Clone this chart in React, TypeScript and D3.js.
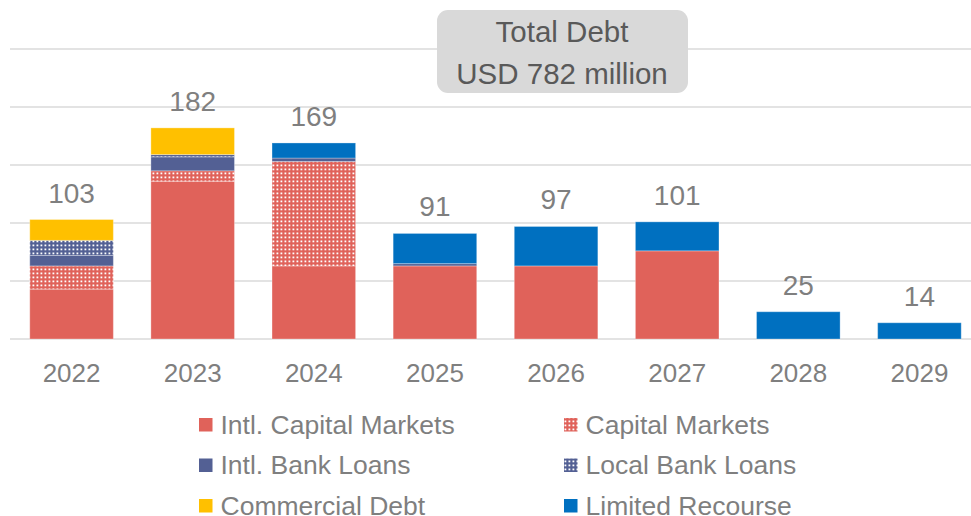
import * as d3 from "d3";

// values in USD million
const years = ["2022", "2023", "2024", "2025", "2026", "2027", "2028", "2029"];
const intlCapitalMarkets = [43, 136, 63, 63, 63, 76, 0, 0];
const capitalMarkets = [20, 9, 90, 0, 0, 0, 0, 0];
const intlBankLoans = [9, 12, 3, 2, 0, 0, 0, 0];
const localBankLoans = [13, 2, 0, 0, 0, 0, 0, 0];
const commercialDebt = [18, 23, 0, 0, 0, 0, 0, 0];
const limitedRecourse = [0, 0, 13, 26, 34, 25, 23.5, 14];
const totals = [103, 182, 169, 91, 97, 101, 25, 14];
const yTicks = [0, 50, 100, 150, 200, 250];

const seriesDefs = [
  { key: "icm", name: "Intl. Capital Markets", values: intlCapitalMarkets, fill: "#e0625a" },
  { key: "cm", name: "Capital Markets", values: capitalMarkets, fill: "url(#patCM)" },
  { key: "ibl", name: "Intl. Bank Loans", values: intlBankLoans, fill: "#536094" },
  { key: "lbl", name: "Local Bank Loans", values: localBankLoans, fill: "url(#patLBL)" },
  { key: "cd", name: "Commercial Debt", values: commercialDebt, fill: "#ffc000" },
  { key: "lr", name: "Limited Recourse", values: limitedRecourse, fill: "#0070c0" },
];

const W = 971;
const H = 516;
const font = "'Liberation Sans', Arial, sans-serif";

export default function App() {
  const x = d3.scaleBand<string>().domain(years).range([11, 980]).paddingInner(0.31).paddingOuter(0.155);
  const y = d3.scaleLinear().domain([0, 250]).range([339, 49]);

  const rows = years.map((yr, i) => {
    const r: Record<string, number | string> = { year: yr };
    seriesDefs.forEach((s) => (r[s.key] = s.values[i]));
    return r;
  });
  const stacked = d3.stack<any>().keys(seriesDefs.map((s) => s.key))(rows);

  const legendCols = [199, 564];
  const legendRows = [418, 458.5, 499];

  return (
    <svg width={W} height={H} style={{ position: "absolute", left: 0, top: 0 }} fontFamily={font}>
      <defs>
        <pattern id="patCM" width="4" height="4" patternUnits="userSpaceOnUse">
          <rect width="4" height="4" fill="#e0625a" />
          <rect x="0.5" y="0.5" width="1.8" height="1.8" fill="#fff" />
        </pattern>
        <pattern id="patLBL" width="4" height="4" patternUnits="userSpaceOnUse">
          <rect width="4" height="4" fill="#536094" />
          <rect x="0.5" y="0.5" width="1.8" height="1.8" fill="#fff" />
        </pattern>
      </defs>

      {yTicks.map((t) => (
        <line key={t} x1={10} x2={971} y1={y(t)} y2={y(t)} stroke="#e3e3e3" strokeWidth={2} />
      ))}

      {stacked.map((layer, si) => (
        <g key={layer.key}>
          {layer.map((d, i) =>
            d[1] - d[0] > 0 ? (
              <rect
                key={i}
                x={x(years[i])}
                width={x.bandwidth()}
                y={y(d[1])}
                height={y(d[0]) - y(d[1])}
                fill={seriesDefs[si].fill}
                stroke="#ffffff"
                strokeOpacity={0.3}
                strokeWidth={1}
              />
            ) : null
          )}
        </g>
      ))}

      {years.map((yr, i) => {
        const top = y(d3.sum(seriesDefs, (s) => s.values[i]));
        return (
          <text
            key={yr}
            x={x(yr)! + x.bandwidth() / 2}
            y={top - 17}
            textAnchor="middle"
            fontSize={28}
            fill="#7f7f7f"
          >
            {totals[i]}
          </text>
        );
      })}

      {years.map((yr) => (
        <text key={yr} x={x(yr)! + x.bandwidth() / 2} y={382} textAnchor="middle" fontSize={26} fill="#7f7f7f">
          {yr}
        </text>
      ))}

      <rect x={437} y={10} width={251} height={83} rx={11} fill="#d9d9d9" />
      <text x={562} y={42} textAnchor="middle" fontSize={29.5} fill="#595959">
        Total Debt
      </text>
      <text x={562} y={84} textAnchor="middle" fontSize={29.5} fill="#595959">
        USD 782 million
      </text>

      {seriesDefs.map((s, i) => {
        const cx = legendCols[i % 2];
        const cy = legendRows[Math.floor(i / 2)];
        return (
          <g key={s.key}>
            <rect x={cx} y={cy} width={13.5} height={13.5} fill={s.fill} />
            <text x={cx + 21.5} y={cy + 15.5} fontSize={26.5} fill="#7f7f7f">
              {s.name}
            </text>
          </g>
        );
      })}
    </svg>
  );
}
